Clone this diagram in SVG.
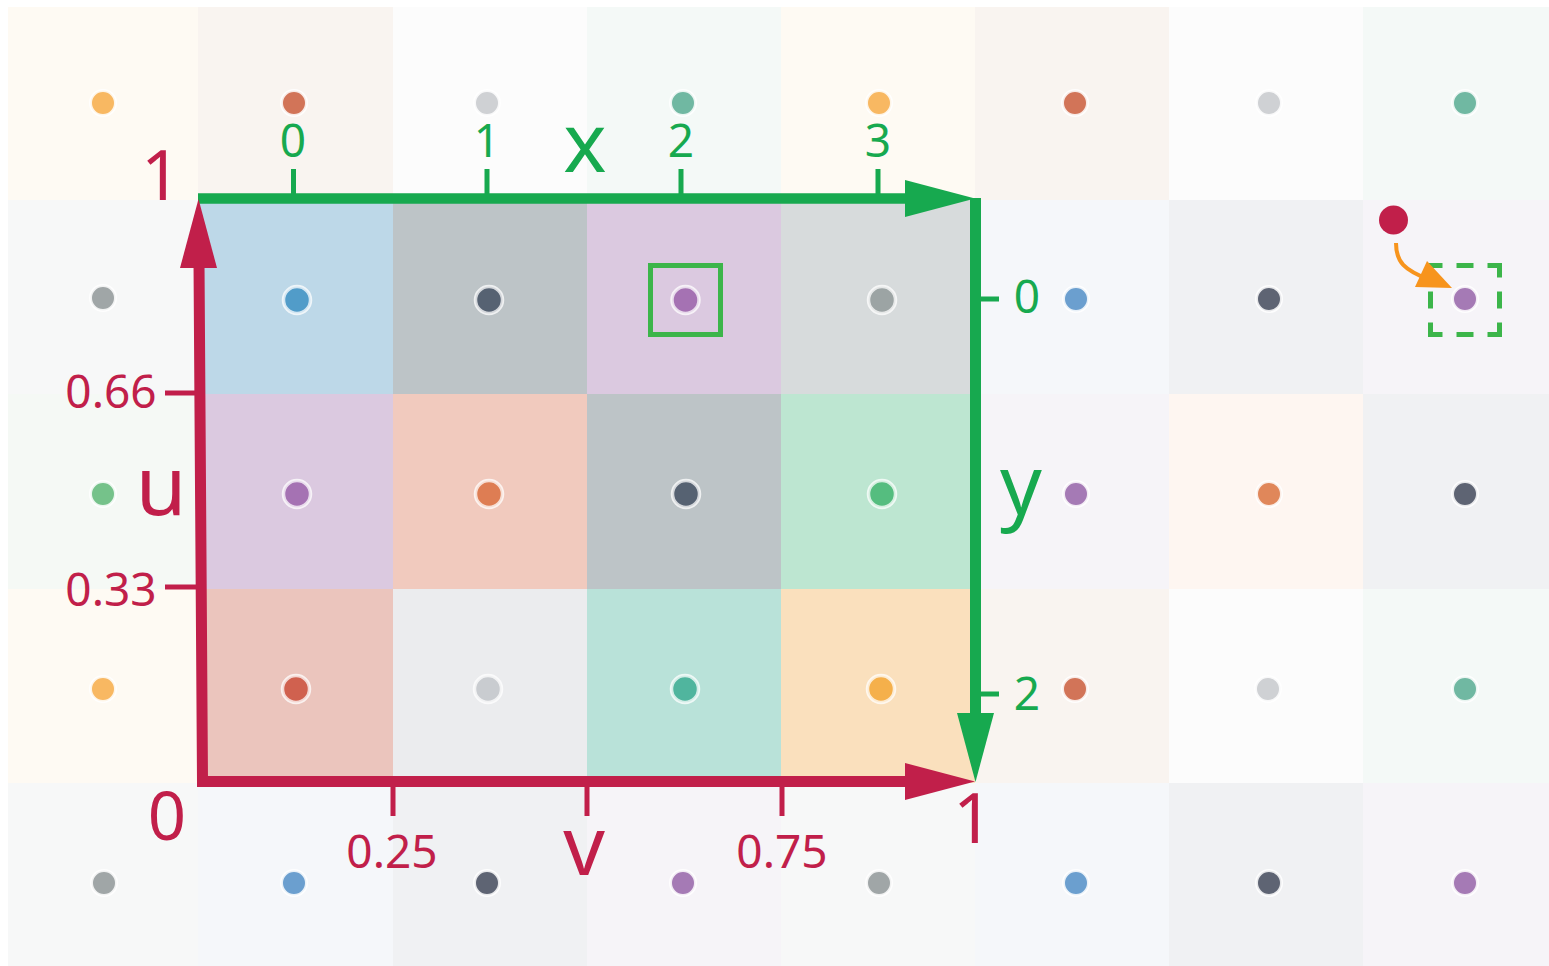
<svg xmlns="http://www.w3.org/2000/svg" width="1549" height="966" viewBox="0 0 1549 966">
<style>
.t{font-family:"Noto Sans","Open Sans",sans-serif;text-anchor:middle}
.g{fill:#17a94f}.r{fill:#c11f4a}
.num{font-size:46px}
.big{font-size:82px}
.ind{stroke:#fff;stroke-opacity:.75;stroke-width:3.5}
.outd{stroke:#fff;stroke-opacity:.85;stroke-width:3}
.bY{fill:#fefaf3}.bR{fill:#f9f4f0}.bL{fill:#fcfcfc}.bT{fill:#f4f9f7}
.bG{fill:#f7f8f8}.bB{fill:#f5f7fa}.bD{fill:#f0f1f3}.bP{fill:#f6f4f8}
.bO{fill:#fef6f1}.bN{fill:#f5f9f5}
.dY{fill:#f8b862}.dR{fill:#d27458}.dL{fill:#cfd1d4}.dT{fill:#70b8a2}
.dG{fill:#a0a6a7}.dB{fill:#6b9fcf}.dD{fill:#5e6473}.dP{fill:#a57ab5}
.dO{fill:#e0875a}.dN{fill:#75c28a}
</style>
<rect width="1549" height="966" fill="#fff"/>
<g id="outer-cells">
<!-- row 0 -->
<rect class="bY" x="8" y="7" width="190" height="193"/>
<rect class="bR" x="198" y="7" width="195" height="193"/>
<rect class="bL" x="393" y="7" width="194" height="193"/>
<rect class="bT" x="587" y="7" width="194" height="193"/>
<rect class="bY" x="781" y="7" width="194" height="193"/>
<rect class="bR" x="975" y="7" width="194" height="193"/>
<rect class="bL" x="1169" y="7" width="194" height="193"/>
<rect class="bT" x="1363" y="7" width="186" height="193"/>
<!-- row 1 -->
<rect class="bG" x="8" y="200" width="190" height="194"/>
<rect class="bB" x="975" y="200" width="194" height="194"/>
<rect class="bD" x="1169" y="200" width="194" height="194"/>
<rect class="bP" x="1363" y="200" width="186" height="194"/>
<!-- row 2 -->
<rect class="bN" x="8" y="394" width="190" height="195"/>
<rect class="bP" x="975" y="394" width="194" height="195"/>
<rect class="bO" x="1169" y="394" width="194" height="195"/>
<rect class="bD" x="1363" y="394" width="186" height="195"/>
<!-- row 3 -->
<rect class="bY" x="8" y="589" width="190" height="194"/>
<rect class="bR" x="975" y="589" width="194" height="194"/>
<rect class="bL" x="1169" y="589" width="194" height="194"/>
<rect class="bT" x="1363" y="589" width="186" height="194"/>
<!-- row 4 -->
<rect class="bG" x="8" y="783" width="190" height="183"/>
<rect class="bB" x="198" y="783" width="195" height="183"/>
<rect class="bD" x="393" y="783" width="194" height="183"/>
<rect class="bP" x="587" y="783" width="194" height="183"/>
<rect class="bG" x="781" y="783" width="194" height="183"/>
<rect class="bB" x="975" y="783" width="194" height="183"/>
<rect class="bD" x="1169" y="783" width="194" height="183"/>
<rect class="bP" x="1363" y="783" width="186" height="183"/>
</g>
<g id="outer-dots" class="outd">
<circle class="dY" cx="103" cy="103" r="12.5"/>
<circle class="dR" cx="294" cy="103" r="12.5"/>
<circle class="dL" cx="487" cy="103" r="12.5"/>
<circle class="dT" cx="683" cy="103" r="12.5"/>
<circle class="dY" cx="879" cy="103" r="12.5"/>
<circle class="dR" cx="1075" cy="103" r="12.5"/>
<circle class="dL" cx="1269" cy="103" r="12.5"/>
<circle class="dT" cx="1465" cy="103" r="12.5"/>
<circle class="dG" cx="103" cy="298" r="12.5"/>
<circle class="dB" cx="1076" cy="299" r="12.5"/>
<circle class="dD" cx="1269" cy="299" r="12.5"/>
<circle class="dN" cx="103" cy="494" r="12.5"/>
<circle class="dP" cx="1076" cy="494" r="12.5"/>
<circle class="dO" cx="1269" cy="494" r="12.5"/>
<circle class="dD" cx="1465" cy="494" r="12.5"/>
<circle class="dY" cx="103" cy="689" r="12.5"/>
<circle class="dR" cx="1075" cy="689" r="12.5"/>
<circle class="dL" cx="1268" cy="689" r="12.5"/>
<circle class="dT" cx="1465" cy="689" r="12.5"/>
<circle class="dG" cx="104" cy="883" r="12.5"/>
<circle class="dB" cx="294" cy="883" r="12.5"/>
<circle class="dD" cx="487" cy="883" r="12.5"/>
<circle class="dP" cx="683" cy="883" r="12.5"/>
<circle class="dG" cx="879" cy="883" r="12.5"/>
<circle class="dB" cx="1076" cy="883" r="12.5"/>
<circle class="dD" cx="1269" cy="883" r="12.5"/>
<circle class="dP" cx="1465" cy="883" r="12.5"/>
</g>
<g id="texture">
<rect x="198" y="200" width="195" height="194" fill="#bdd8e8"/>
<rect x="393" y="200" width="194" height="194" fill="#bdc4c7"/>
<rect x="587" y="200" width="194" height="194" fill="#dbc9e0"/>
<rect x="781" y="200" width="194" height="194" fill="#d7dbdc"/>
<rect x="198" y="394" width="195" height="195" fill="#dbc9e0"/>
<rect x="393" y="394" width="194" height="195" fill="#f1cabe"/>
<rect x="587" y="394" width="194" height="195" fill="#bdc4c7"/>
<rect x="781" y="394" width="194" height="195" fill="#bde6d1"/>
<rect x="198" y="589" width="195" height="194" fill="#ebc5bd"/>
<rect x="393" y="589" width="194" height="194" fill="#ebecee"/>
<rect x="587" y="589" width="194" height="194" fill="#b9e2d9"/>
<rect x="781" y="589" width="194" height="194" fill="#fae0bd"/>
<g class="ind">
<circle cx="297" cy="300" r="13.5" fill="#519cc9"/>
<circle cx="489" cy="300" r="13.5" fill="#566272"/>
<circle cx="685.5" cy="300" r="13.5" fill="#a572b3"/>
<circle cx="882" cy="300" r="13.5" fill="#9ca4a4"/>
<circle cx="297" cy="494" r="13.5" fill="#a572b3"/>
<circle cx="489" cy="494" r="13.5" fill="#de7d53"/>
<circle cx="686" cy="494" r="13.5" fill="#566272"/>
<circle cx="882" cy="494" r="13.5" fill="#55bd7f"/>
<circle cx="296" cy="689" r="13.5" fill="#d0614f"/>
<circle cx="488" cy="689" r="13.5" fill="#c9ccd0"/>
<circle cx="685" cy="689" r="13.5" fill="#50b59e"/>
<circle cx="881" cy="689" r="13.5" fill="#f5b04b"/>
</g>
</g>
<g id="selection">
<rect x="650.5" y="265.5" width="70" height="69" fill="none" stroke="#3cb54a" stroke-width="5"/>
</g>
<g id="wrap-sample">
<circle cx="1465" cy="299" r="12.5" class="dP outd"/>
<rect x="1430.5" y="265.5" width="69" height="69" fill="none" stroke="#3cb54a" stroke-width="5" stroke-dasharray="24 14 17 14" stroke-dashoffset="12"/>
<circle cx="1393.5" cy="220" r="14.5" fill="#c11f4a"/>
</g>
<g id="connectors">
<path d="M1396,243 C1396,262 1404,270 1430,280" fill="none" stroke="#f7941d" stroke-width="4"/>
<polygon points="1452,288 1427,261 1415,287" fill="#f7941d"/>
<!-- green x axis -->
<path d="M198,198.5 H906" stroke="#17a94f" stroke-width="10.5" fill="none"/>
<polygon points="905,180 975,198.5 905,217" fill="#17a94f"/>
<g stroke="#17a94f" stroke-width="5">
<path d="M293.5,169 V194 M487,169 V194 M681,169 V194 M878,169 V194"/>
<path d="M980,299 H999 M980,694 H999"/>
</g>
<!-- green y axis -->
<path d="M975.5,198 V714" stroke="#17a94f" stroke-width="11" fill="none"/>
<polygon points="957,713 994,713 975.5,782" fill="#17a94f"/>
<!-- red axes -->
<path d="M199,262 L202.5,781.5 L906,781.5" stroke="#c11f4a" stroke-width="11" fill="none" stroke-linejoin="miter"/>
<polygon points="198.5,199 217,268 180,268" fill="#c11f4a"/>
<polygon points="905,763 975,781.5 905,800" fill="#c11f4a"/>
<g stroke="#c11f4a" stroke-width="5">
<path d="M393,786 V816 M587,786 V816 M782,786 V816"/>
<path d="M165,393 H198 M165,587 H200"/>
</g>
</g>
<g id="labels">
<text class="t g num" x="293" y="157">0</text>
<text class="t g num" x="487" y="157">1</text>
<text class="t g num" x="681" y="157">2</text>
<text class="t g num" x="878" y="157">3</text>
<text class="t g big" x="585" y="172">x</text>
<text class="t g num" x="1027" y="313">0</text>
<text class="t g num" x="1027" y="710">2</text>
<text class="t g big" x="1021" y="514">y</text>
<text class="t r" x="161" y="200" font-size="70">1</text>
<text class="t r num" x="111" y="408">0.66</text>
<text class="t r num" x="111" y="606">0.33</text>
<text class="t r big" x="161" y="515">u</text>
<text class="t r" x="167" y="840" font-size="67">0</text>
<text class="t r num" x="392" y="868">0.25</text>
<text class="t r big" x="584" y="875">v</text>
<text class="t r num" x="782" y="868">0.75</text>
<text class="t r" x="973" y="843" font-size="70">1</text>
</g>
</svg>
